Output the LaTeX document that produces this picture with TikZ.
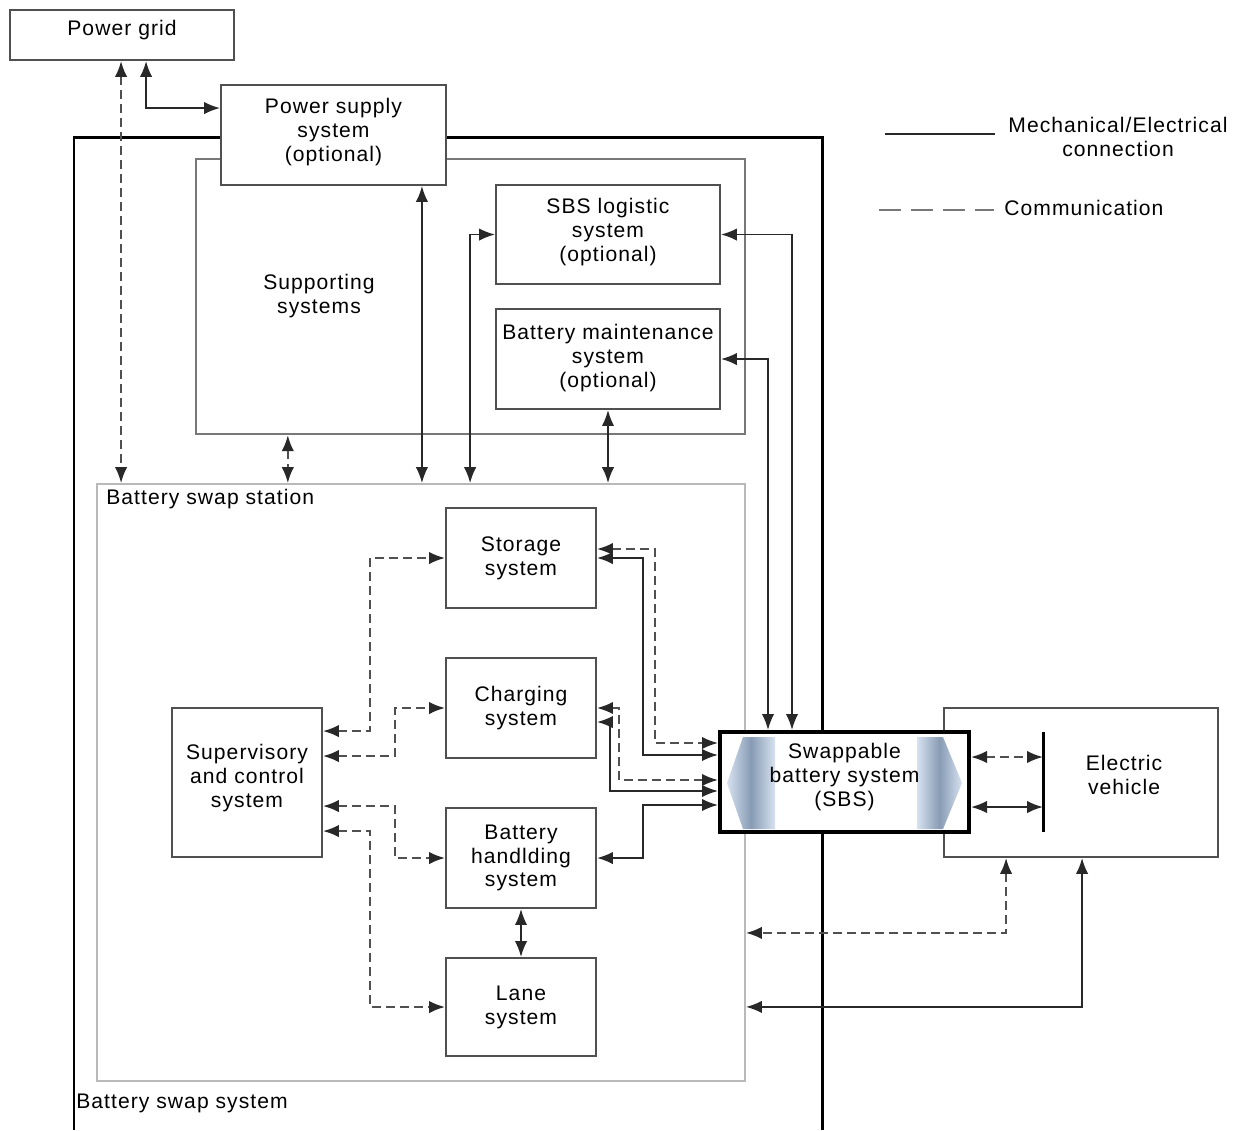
\documentclass[tikz,border=0pt]{standalone}
\usepackage{fontspec}
\setmainfont[LetterSpace=5]{Liberation Sans}
\usetikzlibrary{arrows.meta, calc}
\definecolor{boxgray}{RGB}{80,80,80}
\definecolor{supgray}{RGB}{120,120,120}
\definecolor{stagray}{RGB}{185,185,185}
\definecolor{linegray}{RGB}{40,40,40}
\definecolor{sbsdark}{RGB}{135,155,180}
\definecolor{sbslight}{RGB}{215,226,240}
\tikzset{
    unitbox/.style={draw=boxgray, line width=1.1pt, fill=white, align=center, inner sep=0pt},
    elec/.style={draw=linegray, line width=1.1pt},
    comm/.style={draw=boxgray, line width=1.2pt, dash pattern=on 0.18cm off 0.1cm},
    frame/.style={draw=black, line width=1.7pt},
    caption/.style={align=center, inner sep=0pt},
    sbsarrow/.style={left color=sbslight, right color=sbslight, middle color=sbsdark}
}

\begin{document}
\begin{tikzpicture}[x=0.02cm, y=-0.02cm, font=\fontsize{12}{13.6}\selectfont,
    >={Latex[length=3.2mm,width=2.5mm,color=linegray]}]
    \useasboundingbox (0,0) rectangle (1239,1130);
    % station and supporting systems
    \node[draw=stagray, line width=1.1pt, minimum width=12.96cm, minimum height=11.94cm] (station) at (421,782.5) {};
    \node[caption, anchor=west] (stationtext) at (106,499) {Battery swap station};
    \node[draw=supgray, line width=1.4pt, minimum width=10.98cm, minimum height=5.5cm] (support) at (470.5,296.5) {};
    \node[caption] (supporttext) at (319,296) {Supporting\\systems};
    \draw[frame] (74,1130) |- (822,137) -- (822,1130);
    \node[caption, anchor=west] (systemtext) at (76,1103) {Battery swap system};
    % boxes
    \node[unitbox, minimum width=4.48cm, minimum height=1cm, text depth=8pt] (grid) at (122,35) {Power grid};
    \node[unitbox, minimum width=4.5cm, minimum height=2cm, text depth=6pt] (power) at (333.5,135) {Power supply\\system\\(optional)};
    \node[unitbox, minimum width=4.48cm, minimum height=1.98cm, text depth=5pt] (logi) at (608,234.5) {SBS logistic\\system\\(optional)};
    \node[unitbox, minimum width=4.48cm, minimum height=2cm, text depth=4pt] (maint) at (608,359) {Battery maintenance\\system\\(optional)};
    \node[unitbox, minimum width=3cm, minimum height=2cm] (store) at (521,558) {Storage\\system};
    \node[unitbox, minimum width=3cm, minimum height=2cm] (charge) at (521,708) {Charging\\system};
    \node[unitbox, minimum width=3cm, minimum height=2.98cm, text depth=8pt] (super) at (247,782.5) {Supervisory\\and control\\system};
    \node[unitbox, minimum width=3cm, minimum height=2cm] (handle) at (521,858) {Battery\\handlding\\system};
    \node[unitbox, minimum width=3cm, minimum height=1.96cm] (lane) at (521,1007) {Lane\\system};
    % vehicle and SBS
    \node[unitbox, minimum width=5.48cm, minimum height=2.98cm] (ev) at (1081,782.5) {};
    \node[caption] (evtext) at (1124,775) {Electric\\vehicle};
    \coordinate (plug) at (1043,782);
    \draw[line width=1.7pt] ($(plug)+(0,-50)$) -- ($(plug)+(0,50)$);
    \node[draw=black, fill=white, line width=2.3pt, minimum width=4.98cm, minimum height=2cm] (sbs) at (844.5,782) {};
    \shade[sbsarrow] (743,737) -- (775,737) -- (775,829) -- (743,829) -- (727,783) -- cycle;
    \shade[sbsarrow] (917,737) -- (943,737) -- (962,783) -- (943,829) -- (917,829) -- cycle;
    \node[caption] (sbstext) at (844.5,777) {Swappable\\battery system\\(SBS)};
    % connections above the station
    \draw[comm,<->] ($(grid.south west)+(112,0)$) coordinate (g1) -- (g1 |- station.north);
    \draw[elec,<->] ($(grid.south west)+(137,0)$) |- ($(power.north west)+(0,24)$);
    \draw[elec,<->] ($(power.south east)+(-25,0)$) coordinate (p1) -- (p1 |- station.north);
    \draw[comm,<->] ($(support.south west)+(93,0)$) coordinate (s1) -- (s1 |- station.north);
    \draw[elec,<->] ($(station.north west)+(374,0)$) |- (logi.west);
    \draw[elec,<->] (maint.south) -- (maint.south |- station.north);
    \draw[elec,<->] (logi.east) -| ($(sbs.north west)+(74,0)$);
    \draw[elec,<->] (maint.east) -| ($(sbs.north west)+(50,0)$);
    % supervisory links
    \draw[comm,<->] ($(super.north east)+(0,24)$) -| ($(store.west)+(-75,0)$) -- (store.west);
    \draw[comm,<->] ($(super.north east)+(0,49)$) -| ($(charge.west)+(-50,0)$) -- (charge.west);
    \draw[comm,<->] ($(super.north east)+(0,99)$) -| ($(handle.west)+(-50,0)$) -- (handle.west);
    \draw[comm,<->] ($(super.north east)+(0,124)$) -| ($(lane.west)+(-75,0)$) -- (lane.west);
    % links to the SBS
    \draw[comm,<->] ($(store.east)+(0,-9)$) -| ($(sbs.north west)+(-63,13)$) -- ($(sbs.north west)+(0,13)$);
    \draw[elec,<->] (store.east) -| ($(sbs.north west)+(-75,25)$) -- ($(sbs.north west)+(0,25)$);
    \draw[comm,<->] (charge.east) -| ($(sbs.north west)+(-99,50)$) -- ($(sbs.north west)+(0,50)$);
    \draw[elec,<->] ($(charge.east)+(0,14)$) -| ($(sbs.north west)+(-108,61)$) -- ($(sbs.north west)+(0,61)$);
    \draw[elec,<->] (handle.east) -| ($(sbs.north west)+(-75,75)$) -- ($(sbs.north west)+(0,75)$);
    \draw[elec,<->] (handle.south) -- (lane.north);
    % vehicle links
    \draw[comm,<->] ($(sbs.east)+(0,-25)$) -- ($(plug)+(0,-25)$);
    \draw[elec,<->] ($(sbs.east)+(0,25)$) -- ($(plug)+(0,25)$);
    \draw[comm,<->] ($(ev.south west)+(63,0)$) |- ($(station.south east)+(0,-149)$);
    \draw[elec,<->] ($(ev.south west)+(139,0)$) |- ($(station.south east)+(0,-75)$);
    % legend
    \node[caption] (legmech) at (1118,137) {Mechanical/Electrical\\connection};
    \node[caption, anchor=west] (legcomm) at (1004,208) {Communication};
    \draw[draw=linegray, line width=0.8pt] ($(legmech.west)+(-123,-3)$) -- ($(legmech.west)+(-13,-3)$);
    \draw[draw=supgray, line width=0.8pt, dash pattern=on 0.44cm off 0.2cm] ($(legcomm.west)+(-125,2)$) -- ($(legcomm.west)+(-10,2)$);
\end{tikzpicture}
\end{document}
